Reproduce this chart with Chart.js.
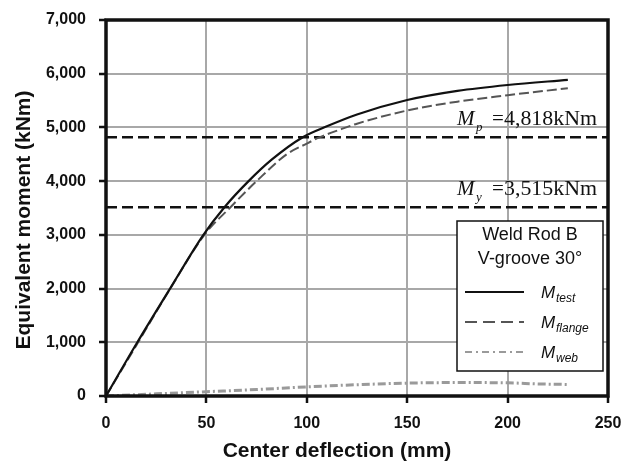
<!DOCTYPE html>
<html lang="en">
  <head>
    <meta charset="UTF-8" />
    <title>Moment - deflection</title>
    <style type="text/css">
      body {
        margin: 0;
        background-color: #ffffff;
      }

      .canva {
        width: 632px !important;
        height: 464px !important;
        display: block;
      }
    </style>
  </head>
  <body>
    <canvas id="moment-chart" class="canva" width="632" height="464"></canvas>

    <script src="https://cdn.jsdelivr.net/npm/chart.js@4.4.1/dist/chart.umd.min.js"></script>

    <script type="text/javascript">
      // measured curves, center deflection (mm) vs equivalent moment (kNm)
      const testDefl = [0, 15.6, 31.9, 48.5, 59, 71, 82.5, 98, 110, 125, 150, 175, 200, 230];
      const testMoment = [0, 1000, 2000, 3000, 3515, 4000, 4400, 4818, 5020, 5240, 5510, 5680, 5790, 5885];

      const flangeDefl = [0, 16, 32, 49, 62, 75, 90, 100, 106.5, 116.5, 125, 150, 175, 200, 230];
      const flangeMoment = [0, 1000, 2000, 3000, 3515, 4000, 4500, 4700, 4818, 4960, 5070, 5315, 5480, 5600, 5730];

      const webDefl = [0, 25, 50, 75, 100, 125, 150, 175, 200, 215, 230];
      const webMoment = [0, 40, 80, 120, 170, 210, 240, 250, 245, 225, 215];

      // plastic and yield moment levels
      const momentP = 4818;
      const momentY = 3515;

      const xTicks = [0, 50, 100, 150, 200, 250];
      const yTicks = [0, 1000, 2000, 3000, 4000, 5000, 6000, 7000];

      const xTitle = "Center deflection (mm)";
      const yTitle = "Equivalent moment (kNm)";
      const legendTitle = ["Weld Rod B", "V-groove 30°"];
      const seriesSubs = ["test", "flange", "web"];

      const toPoints = (xs, ys) => xs.map((x, i) => ({ x: x, y: ys[i] }));
      const levelLine = (value) => [xTicks[0], xTicks[xTicks.length - 1]].map((x) => ({ x: x, y: value }));
      const fmt = (v) => v.toLocaleString("en-US");

      const sans = "'Liberation Sans', Arial, sans-serif";
      const serif = "'Liberation Serif', 'Times New Roman', serif";

      // axis titles, level labels, legend box and frame
      const extrasPlugin = {
        id: "extras",
        afterDatasetsDraw(chart) {
          const { ctx, chartArea, scales } = chart;
          const ds = chart.data.datasets;

          // axis titles
          ctx.save();
          ctx.fillStyle = "#111";
          ctx.font = "bold 21px " + sans;
          ctx.textAlign = "center";
          ctx.textBaseline = "middle";
          ctx.fillText(xTitle, 337, 451);
          ctx.translate(24, 220);
          ctx.rotate(-Math.PI / 2);
          ctx.fillText(yTitle, 0, 0);
          ctx.restore();

          // level labels: M_p and M_y
          [
            ["p", momentP],
            ["y", momentY],
          ].forEach(([sub, val]) => {
            const base = scales.y.getPixelForValue(val) - 12;
            ctx.save();
            ctx.fillStyle = "#111";
            ctx.textBaseline = "alphabetic";
            ctx.textAlign = "left";
            ctx.font = "italic 21px " + serif;
            ctx.fillText("M", 457, base);
            ctx.font = "italic 13px " + serif;
            ctx.fillText(sub, 476, base + 6);
            ctx.font = "21px " + serif;
            ctx.fillText("=", 492, base);
            const txt = fmt(val) + "kNm";
            const w = ctx.measureText(txt).width;
            ctx.translate(504, base);
            ctx.scale(93 / w, 1);
            ctx.fillText(txt, 0, 0);
            ctx.restore();
          });

          // legend box
          const bx = 457, by = 221, bw = 146, bh = 150;
          ctx.save();
          ctx.fillStyle = "#fff";
          ctx.fillRect(bx, by, bw, bh);
          ctx.strokeStyle = "#111";
          ctx.lineWidth = 1.5;
          ctx.strokeRect(bx, by, bw, bh);

          ctx.fillStyle = "#111";
          ctx.textAlign = "center";
          ctx.textBaseline = "alphabetic";
          ctx.font = "18px " + sans;
          ctx.fillText(legendTitle[0], bx + bw / 2, 240);
          ctx.fillText(legendTitle[1], bx + bw / 2, 264);

          seriesSubs.forEach((sub, i) => {
            const d = ds[i];
            const ly = 292 + i * 30;
            ctx.save();
            ctx.strokeStyle = d.borderColor;
            ctx.lineWidth = 2;
            ctx.setLineDash(d.legendDash);
            ctx.beginPath();
            ctx.moveTo(465, ly);
            ctx.lineTo(524, ly);
            ctx.stroke();
            ctx.restore();

            ctx.textAlign = "left";
            ctx.font = "italic 17px " + sans;
            ctx.fillText("M", 541, ly + 6);
            ctx.font = "italic 12px " + sans;
            ctx.fillText(sub, 556, ly + 10);
          });
          ctx.restore();

          // frame around plot area
          ctx.save();
          ctx.strokeStyle = "#111";
          ctx.lineWidth = 3.5;
          ctx.strokeRect(chartArea.left, chartArea.top, chartArea.right - chartArea.left, chartArea.bottom - chartArea.top);
          ctx.restore();
        },
      };

      let chart = new Chart("moment-chart", {
        type: "line",
        data: {
          datasets: [
            {
              label: "test",
              data: toPoints(testDefl, testMoment),
              borderColor: "#111111",
              borderWidth: 2.2,
              legendDash: [],
              order: 0,
            },
            {
              label: "flange",
              data: toPoints(flangeDefl, flangeMoment),
              borderColor: "#555555",
              borderWidth: 2,
              borderDash: [10, 4],
              legendDash: [12, 6],
              order: 1,
            },
            {
              label: "web",
              data: toPoints(webDefl, webMoment),
              borderColor: "#9a9a9a",
              borderWidth: 3,
              borderDash: [8, 3, 2, 3],
              legendDash: [7, 4, 2, 4],
              order: 2,
            },
            {
              label: "Mp",
              data: levelLine(momentP),
              borderColor: "#111111",
              borderWidth: 2.5,
              borderDash: [11, 5],
              tension: 0,
              order: 3,
            },
            {
              label: "My",
              data: levelLine(momentY),
              borderColor: "#111111",
              borderWidth: 2.5,
              borderDash: [11, 5],
              tension: 0,
              order: 3,
            },
          ],
        },
        options: {
          responsive: false,
          animation: false,
          devicePixelRatio: 1,
          layout: { padding: { top: 20, right: 24, left: 0, bottom: 0 } },
          elements: {
            point: { radius: 0 },
            line: { cubicInterpolationMode: "monotone", fill: false },
          },
          plugins: {
            legend: { display: false },
            tooltip: { enabled: false },
          },
          scales: {
            x: {
              type: "linear",
              min: 0,
              max: 250,
              afterFit: (scale) => {
                scale.height = 68;
                scale.paddingLeft = 0;
                scale.paddingRight = 0;
              },
              afterBuildTicks: (scale) => {
                scale.ticks = xTicks.map((v) => ({ value: v }));
              },
              border: { display: false },
              grid: { color: "#a8a8a8", lineWidth: 2, tickLength: 7, tickColor: "#111", tickWidth: 2.5 },
              ticks: {
                color: "#111",
                padding: 11,
                maxRotation: 0,
                font: { family: sans, size: 16, weight: "bold" },
                callback: (v) => fmt(v),
              },
            },
            y: {
              type: "linear",
              min: 0,
              max: 7000,
              afterFit: (scale) => {
                scale.width = 106;
                scale.paddingTop = 0;
                scale.paddingBottom = 0;
              },
              afterBuildTicks: (scale) => {
                scale.ticks = yTicks.map((v) => ({ value: v }));
              },
              border: { display: false },
              grid: { color: "#a8a8a8", lineWidth: 2, tickLength: 7, tickColor: "#111", tickWidth: 2.5 },
              ticks: {
                color: "#111",
                padding: 13,
                font: { family: sans, size: 16, weight: "bold" },
                callback: (v) => fmt(v),
              },
            },
          },
        },
        plugins: [extrasPlugin],
      });
    </script>
  </body>
</html>
